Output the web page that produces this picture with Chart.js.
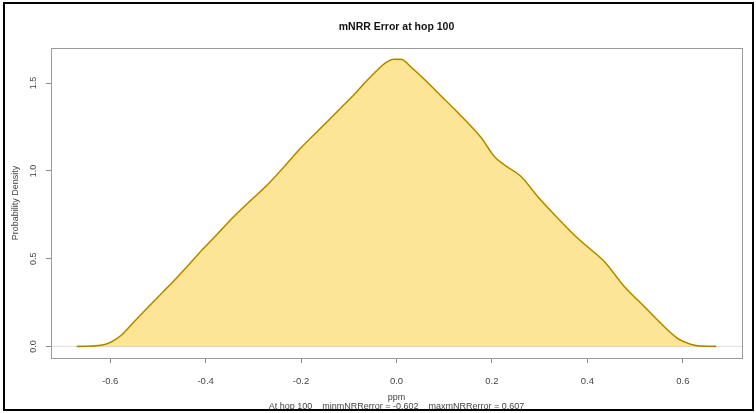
<!DOCTYPE html>
<html>
<head>
<meta charset="utf-8">
<script src="https://cdn.jsdelivr.net/npm/chart.js@4.4.0/dist/chart.umd.min.js"></script>
<style>
  html, body { margin: 0; padding: 0; background: #fff; }
  #wrap { position: relative; width: 756px; height: 413px; }
  #frame { position: absolute; left: 3px; top: 2px; width: 751px; height: 409px; border: 2px solid #000; box-sizing: border-box; pointer-events: none; }
  canvas { position: absolute; left: 0; top: 0; }
</style>
</head>
<body>
<div id="wrap">
  <canvas id="densityChart" width="756" height="413"></canvas>
  <div id="frame"></div>
</div>
<script>
// density estimate
const densX = [-0.67, -0.645, -0.626, -0.61, -0.598, -0.577, -0.55, -0.521, -0.493, -0.465, -0.437, -0.409, -0.388,
    -0.34, -0.311, -0.27, -0.235, -0.2, -0.172, -0.144, -0.116, -0.088, -0.067, -0.046, -0.022, -0.004, 0.01,
    0.031, 0.059, 0.094, 0.122, 0.15, 0.178, 0.205, 0.226, 0.261, 0.296, 0.338, 0.38, 0.408, 0.436, 0.478,
    0.52, 0.562, 0.59, 0.605, 0.618, 0.632, 0.65, 0.67];
const densY = [0, 0.001, 0.004, 0.012, 0.025, 0.063, 0.14, 0.222, 0.30, 0.378, 0.46, 0.545, 0.604,
    0.742, 0.818, 0.922, 1.025, 1.132, 1.208, 1.284, 1.36, 1.437, 1.50, 1.558, 1.617, 1.636, 1.635,
    1.59, 1.52, 1.425, 1.35, 1.272, 1.187, 1.082, 1.034, 0.968, 0.853, 0.73, 0.615, 0.55, 0.482, 0.339,
    0.225, 0.11, 0.044, 0.024, 0.011, 0.003, 0.001, 0];
const zeroX = [-0.724, 0.724];
const xTicks = [-0.6, -0.4, -0.2, 0, 0.2, 0.4, 0.6];
const yTicks = [0, 0.5, 1.0, 1.5];
const chartTitle = 'mNRR Error at hop 100';
const xTitle = 'ppm';
const yTitle = 'Probability Density';
const subTitle = 'At hop 100    minmNRRerror = -0.602    maxmNRRerror = 0.607';

const FONT = '"Liberation Sans", Arial, sans-serif';
const points = densX.map((x, i) => ({ x: x, y: densY[i] }));

// R style box, titles and rotated y labels
const rText = {
    id: 'rText',
    afterDraw(chart) {
        const { ctx, chartArea: a, scales: { y } } = chart;
        const cx = (a.left + a.right) / 2;
        ctx.save();
        ctx.strokeStyle = '#9a9a9a';
        ctx.lineWidth = 1;
        ctx.strokeRect(Math.round(a.left) + 0.5, Math.round(a.top) + 0.5,
            Math.round(a.right - a.left), Math.round(a.bottom - a.top));

        ctx.textAlign = 'center';
        ctx.textBaseline = 'middle';
        ctx.fillStyle = '#111';
        ctx.font = 'bold 10.5px ' + FONT;
        ctx.fillText(chartTitle, cx, 27);

        ctx.fillStyle = '#444';
        ctx.font = '9px ' + FONT;
        ctx.fillText(xTitle, cx, 398);
        ctx.fillText(subTitle, cx, 406.5);

        yTicks.forEach(v => {
            ctx.save();
            ctx.translate(34, y.getPixelForValue(v));
            ctx.rotate(-Math.PI / 2);
            ctx.fillText(v.toFixed(1), 0, 0);
            ctx.restore();
        });
        ctx.save();
        ctx.translate(16, (a.top + a.bottom) / 2);
        ctx.rotate(-Math.PI / 2);
        ctx.fillText(yTitle, 0, 0);
        ctx.restore();
        ctx.restore();
    }
};

function renderDensityChart() {
    const ctx = document.getElementById('densityChart').getContext('2d');
    new Chart(ctx, {
        type: 'line',
        data: {
            datasets: [
                {
                    data: points,
                    borderColor: '#8a6c00',
                    borderWidth: 0.8,
                    pointRadius: 0,
                    fill: false,
                    cubicInterpolationMode: 'monotone',
                    order: 1
                },
                {
                    data: points,
                    borderColor: '#dcab10',
                    borderWidth: 1.7,
                    pointRadius: 0,
                    fill: false,
                    cubicInterpolationMode: 'monotone',
                    order: 2
                },
                {
                    data: zeroX.map(x => ({ x: x, y: 0 })),
                    borderColor: 'rgba(110,110,110,0.22)',
                    borderWidth: 1,
                    pointRadius: 0,
                    fill: false,
                    order: 3
                },
                {
                    data: points,
                    borderColor: 'rgba(0,0,0,0)',
                    borderWidth: 0,
                    backgroundColor: '#fde598',
                    pointRadius: 0,
                    fill: 'origin',
                    cubicInterpolationMode: 'monotone',
                    order: 4
                }
            ]
        },
        options: {
            responsive: false,
            devicePixelRatio: 1,
            animation: false,
            layout: { padding: { left: 0, top: 48, right: 14, bottom: 0 } },
            plugins: { legend: { display: false }, tooltip: { enabled: false } },
            scales: {
                x: {
                    type: 'linear',
                    min: -0.724,
                    max: 0.724,
                    afterBuildTicks: s => { s.ticks = xTicks.map(v => ({ value: v })); },
                    afterFit: s => { s.height = 55; },
                    ticks: {
                        callback: v => v.toFixed(1),
                        color: '#444',
                        font: { family: FONT, size: 9.5 },
                        padding: 13,
                        maxRotation: 0,
                        autoSkip: false
                    },
                    grid: { drawOnChartArea: false, drawTicks: true, tickLength: 5, color: '#8a8a8a' },
                    border: { display: false }
                },
                y: {
                    min: -0.066,
                    max: 1.70,
                    afterBuildTicks: s => { s.ticks = yTicks.map(v => ({ value: v })); },
                    afterFit: s => { s.width = 51; },
                    ticks: { display: false },
                    grid: { drawOnChartArea: false, drawTicks: true, tickLength: 5, color: '#8a8a8a' },
                    border: { display: false }
                }
            }
        },
        plugins: [rText]
    });
}

renderDensityChart();
</script>
</body>
</html>
